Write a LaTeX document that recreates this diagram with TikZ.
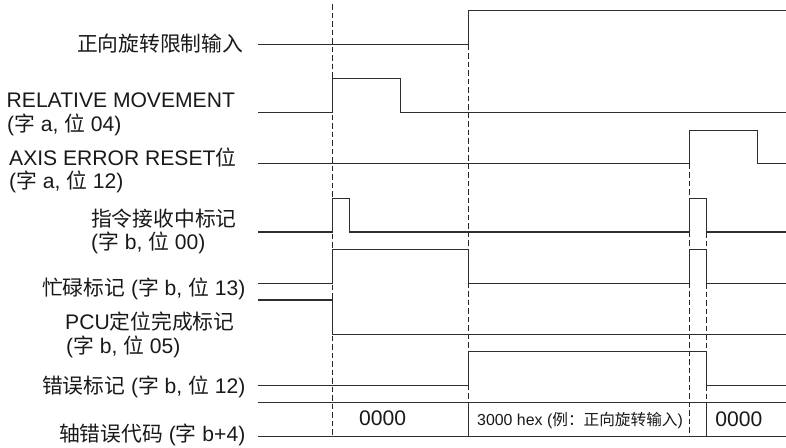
\documentclass[tikz,border=0pt]{standalone}
\usepackage{fontspec}
\setmainfont{Liberation Sans}
\newfontfamily\cjkfont[Scale=0.985]{Noto Sans CJK SC}
\newcommand{\zhtxt}[1]{{\cjkfont #1}}
\begin{document}
\begin{tikzpicture}[x=1pt,y=-1pt,
  sig/.style={line width=1.15pt,draw=black!82,line join=miter},
  guide/.style={line width=0.9pt,draw=black!85,dash pattern=on 5.5pt off 3pt},
  lbl/.style={inner sep=0pt,text=black!90,font=\fontsize{21.1}{23.5}\selectfont},
  small/.style={inner sep=0pt,text=black!90,font=\fontsize{15.9}{18}\selectfont}]
\useasboundingbox (0,0) rectangle (786,447);
\fill[white] (0,0) rectangle (786,447);

% guide lines
\draw[guide] (332.7,4) -- (332.7,436.7);
\draw[guide] (468.3,44.5) -- (468.3,402.7);
\draw[guide] (689.7,163.7) -- (689.7,436.7);
\draw[guide] (706.3,232) -- (706.3,402.7);

% signals
\draw[sig] (258,44.5) -- (468.3,44.5) -- (468.3,10.5) -- (786,10.5);
\draw[sig] (258,112.7) -- (332.7,112.7) -- (332.7,78.7) -- (400.7,78.7) -- (400.7,112.7) -- (786,112.7);
\draw[sig] (258,163.7) -- (689.7,163.7) -- (689.7,130.3) -- (757.7,130.3) -- (757.7,163.7) -- (786,163.7);
\draw[sig] (258,232) -- (332.7,232) -- (332.7,198.3) -- (349.7,198.3) -- (349.7,232) -- (689.7,232) -- (689.7,198.3) -- (706.3,198.3) -- (706.3,232) -- (786,232);
\draw[sig] (258,283.3) -- (332.7,283.3) -- (332.7,249.3) -- (468.3,249.3) -- (468.3,283.3) -- (689.7,283.3) -- (689.7,249.3) -- (706.3,249.3) -- (706.3,283.3) -- (786,283.3);
\draw[sig] (258,300) -- (332.7,300) -- (332.7,334.3) -- (786,334.3);
\draw[sig] (258,385.3) -- (468.3,385.3) -- (468.3,351.7) -- (706.3,351.7) -- (706.3,385.3) -- (786,385.3);
% bus
\draw[sig] (258,402.7) -- (786,402.7);
\draw[sig] (258,436.7) -- (786,436.7);
\draw[sig] (468.3,402.7) -- (468.3,436.7);
\draw[sig] (706.3,402.7) -- (706.3,436.7);

% labels
\node[lbl,anchor=base east] (l1) at (243.5,51) {\zhtxt{正向旋转限制输入}};
\node[lbl,anchor=base west] (l2a) at (6.5,107.3) {RELATIVE MOVEMENT};
\node[lbl,anchor=base west] (l2b) at (7,131) {(\zhtxt{字} a, \zhtxt{位} 04)};
\node[lbl,anchor=base west] (l3a) at (9,165) {AXIS ERROR RESET\zhtxt{位}};
\node[lbl,anchor=base west] (l3b) at (9,188.5) {(\zhtxt{字} a, \zhtxt{位} 12)};
\node[lbl,anchor=base west] (l4a) at (91,226) {\zhtxt{指令接收中标记}};
\node[lbl,anchor=base west] (l4b) at (91,249.5) {(\zhtxt{字} b, \zhtxt{位} 00)};
\node[lbl,anchor=base east] (l5) at (245.5,295) {\zhtxt{忙碌标记} (\zhtxt{字} b, \zhtxt{位} 13)};
\node[lbl,anchor=base west] (l6a) at (65,329.5) {PCU\zhtxt{定位完成标记}};
\node[lbl,anchor=base west] (l6b) at (66,353) {(\zhtxt{字} b, \zhtxt{位} 05)};
\node[lbl,anchor=base east] (l7) at (245.5,393.3) {\zhtxt{错误标记} (\zhtxt{字} b, \zhtxt{位} 12)};
\node[lbl,anchor=base east] (l8) at (245.5,441.5) {\zhtxt{轴错误代码} (\zhtxt{字} b+4)};

% bus values
\node[lbl,anchor=base] (v1) at (382.7,425) {0000};
\node[small,anchor=base west] (v2) at (477,425.5) {3000 hex (\zhtxt{例：正向旋转输入})};
\node[lbl,anchor=base] (v3) at (738.8,426) {0000};
\end{tikzpicture}
\end{document}
